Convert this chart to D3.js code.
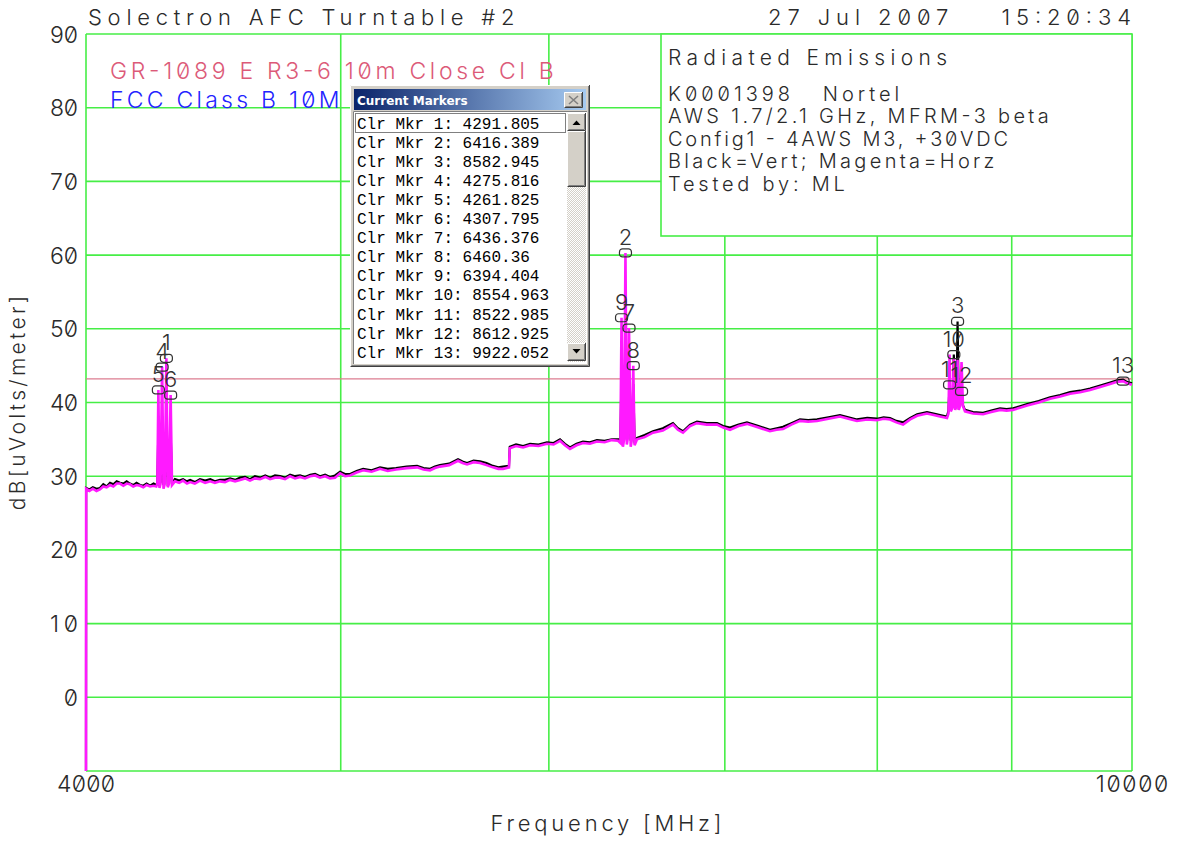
<!DOCTYPE html>
<html>
<head>
<meta charset="utf-8">
<script src="https://cdn.jsdelivr.net/npm/d3@7"></script>
<style>
  html, body { margin: 0; padding: 0; background: #fff; }
  svg { display: block; }
  .vec { font-family: "Inter", "DejaVu Sans", sans-serif; font-weight: 300; font-feature-settings: "zero" 1; white-space: pre; }
</style>
</head>
<body>
<svg id="chart" width="1177" height="842"></svg>
<script>
// ---- Scan data: frequency (MHz) and field strength (dBuV/m) ----
const freqMHz = [
  4000, 4000.5, 4012, 4024, 4037, 4049, 4061, 4073, 4085, 4097, 4109, 4121, 4133, 4145, 4157, 4169, 4181, 4194, 4206, 4218,
  4231, 4244, 4254, 4258, 4261.825, 4266, 4270, 4275.816, 4281, 4286, 4291.805, 4297, 4302, 4307.795, 4313, 4324, 4340, 4355, 4370, 4382,
  4400, 4420, 4440, 4460, 4478, 4498, 4518, 4538, 4558, 4578, 4598, 4618, 4638, 4659, 4680, 4700, 4720, 4741, 4762, 4783,
  4804, 4825, 4846, 4868, 4889, 4910, 4932, 4953, 4975, 4997, 5019, 5041, 5070, 5099, 5137, 5175, 5210, 5248, 5297, 5346,
  5376, 5407, 5430, 5454, 5498, 5541, 5563, 5585, 5617, 5649, 5681, 5713, 5740, 5764, 5794, 5798, 5830, 5866, 5902, 5946,
  5990, 6025, 6059, 6085, 6112, 6147, 6182, 6220, 6258, 6300, 6340, 6375, 6388, 6394.404, 6402, 6409, 6416.389, 6424, 6430, 6436.376,
  6446, 6453, 6460.36, 6468, 6482, 6525, 6573, 6630, 6689, 6718, 6748, 6790, 6831, 6890, 6952, 6990, 7032, 7085, 7137, 7210,
  7282, 7325, 7366, 7420, 7476, 7530, 7589, 7665, 7743, 7800, 7859, 7930, 7998, 8045, 8090, 8135, 8183, 8234, 8284, 8356,
  8405, 8452, 8504, 8515, 8522.985, 8532, 8545, 8554.963, 8565, 8575, 8582.945, 8592, 8603, 8612.925, 8624, 8639, 8700, 8777, 8840, 8908,
  8960, 9010, 9065, 9122, 9215, 9307, 9390, 9472, 9555, 9639, 9725, 9810, 9870, 9922.052, 9957, 10000
];
// Horizontal polarisation (magenta)
const horzDb = [
  -10, 28.3, 28.0, 28.3, 28.0, 28.2, 28.6, 28.5, 28.8, 28.6, 29.0, 29.0, 28.7, 29.0, 28.9, 28.6, 28.8, 28.7, 28.5, 28.8,
  28.6, 28.7, 28.6, 29.0, 41.7, 28.4, 29.0, 44.8, 28.3, 29.0, 46.0, 28.5, 29.0, 41.0, 28.8, 29.3, 29.1, 29.4, 29.0, 29.2,
  29.0, 29.4, 29.1, 29.3, 29.1, 29.3, 29.2, 29.5, 29.3, 29.5, 29.7, 29.4, 29.7, 29.6, 29.9, 29.6, 29.8, 29.8, 29.6, 30.0,
  29.7, 29.9, 29.7, 30.0, 30.1, 29.8, 30.0, 29.7, 29.8, 30.4, 30.0, 30.1, 30.5, 30.8, 30.6, 31.0, 30.7, 30.9, 31.1, 31.2,
  30.9, 30.8, 31.1, 31.3, 31.5, 32.1, 31.8, 31.6, 31.9, 31.8, 31.5, 31.2, 31.0, 31.0, 31.2, 33.8, 34.1, 33.9, 34.2, 34.1,
  34.4, 34.3, 34.8, 34.2, 33.7, 34.2, 34.5, 34.4, 34.7, 34.6, 34.9, 34.8, 34.5, 51.5, 34.0, 35.0, 60.3, 34.3, 35.2, 50.1,
  34.0, 35.0, 45.0, 34.2, 35.0, 35.3, 35.9, 36.2, 37.0, 36.3, 35.9, 36.8, 37.2, 37.0, 37.0, 36.6, 36.3, 36.8, 37.1, 36.6,
  36.1, 36.3, 36.4, 37.0, 37.5, 37.4, 37.5, 37.8, 38.1, 37.8, 37.5, 37.7, 37.6, 37.8, 37.7, 37.3, 37.0, 37.7, 38.2, 38.5,
  38.3, 38.1, 37.9, 38.5, 46.5, 38.8, 39.3, 46.0, 39.0, 39.5, 45.8, 39.0, 39.6, 45.5, 39.5, 38.8, 38.5, 38.4, 38.7, 39.0,
  38.9, 39.0, 39.3, 39.6, 40.0, 40.5, 40.8, 41.2, 41.4, 41.7, 42.1, 42.5, 42.8, 42.9, 42.6, 42.4
];
// Vertical polarisation (black)
const vertDb = [
  -10, 28.4, 28.2, 28.5, 28.3, 28.4, 28.9, 28.6, 29.1, 28.9, 29.3, 29.1, 29.0, 29.3, 29.0, 28.8, 29.1, 28.8, 28.7, 29.0,
  28.7, 29.0, 28.8, 29.0, 36.5, 29.0, 29.2, 38.0, 28.8, 29.2, 37.5, 29.0, 29.2, 36.0, 29.1, 29.6, 29.4, 29.6, 29.3, 29.5,
  29.2, 29.6, 29.4, 29.6, 29.3, 29.5, 29.5, 29.7, 29.5, 29.8, 29.9, 29.6, 30.0, 29.8, 30.1, 29.8, 30.1, 30.0, 29.8, 30.2,
  30.0, 30.1, 29.9, 30.2, 30.3, 30.0, 30.2, 29.9, 30.1, 30.6, 30.3, 30.3, 30.7, 31.0, 30.8, 31.2, 31.0, 31.1, 31.3, 31.4,
  31.1, 31.0, 31.3, 31.5, 31.7, 32.3, 32.0, 31.8, 32.1, 32.0, 31.8, 31.4, 31.2, 31.3, 31.4, 34.0, 34.3, 34.1, 34.4, 34.3,
  34.6, 34.5, 35.0, 34.4, 33.9, 34.4, 34.7, 34.6, 34.9, 34.8, 35.0, 35.0, 35.0, 44.0, 34.8, 35.2, 45.5, 35.0, 35.3, 43.5,
  34.8, 35.2, 42.5, 34.8, 35.2, 35.6, 36.1, 36.5, 37.2, 36.5, 36.1, 37.0, 37.4, 37.2, 37.2, 36.8, 36.6, 37.0, 37.3, 36.8,
  36.3, 36.5, 36.7, 37.2, 37.7, 37.6, 37.7, 38.0, 38.3, 38.0, 37.7, 37.9, 37.8, 38.0, 37.9, 37.5, 37.3, 37.9, 38.4, 38.7,
  38.5, 38.3, 38.1, 38.9, 42.4, 39.2, 39.5, 46.5, 39.5, 40.0, 51.0, 39.5, 39.8, 41.5, 39.6, 39.0, 38.7, 38.6, 38.9, 39.2,
  39.1, 39.2, 39.5, 39.8, 40.2, 40.7, 41.0, 41.4, 41.6, 41.9, 42.3, 42.7, 43.0, 43.1, 42.8, 42.6
];

// Limit line (GR-1089 E R3-6, 10 m, Class B)
const limitDb = 43.2;

// Clear-write markers
const markerNum  = [1, 2, 3, 4, 5, 6, 7, 8, 9, 10, 11, 12, 13];
const markerFreq = [4291.805, 6416.389, 8582.945, 4275.816, 4261.825, 4307.795, 6436.376, 6460.36, 6394.404, 8554.963, 8522.985, 8612.925, 9922.052];
const markerDb   = [46.0, 60.3, 51.0, 44.8, 41.7, 41.0, 50.1, 45.0, 51.5, 46.5, 42.4, 41.5, 42.9];

// Axis ticks
const yTicks = [-10, 0, 10, 20, 30, 40, 50, 60, 70, 80, 90];
const yTickLabels = ["", "0", "10", "20", "30", "40", "50", "60", "70", "80", "90"];
const xGrid = [4000, 5000, 6000, 7000, 8000, 9000, 10000];
const xTickLabels = [[4000, "4000"], [10000, "10000"]];

// Text blocks
const headerLeft = "Solectron AFC Turntable #2";
const headerDate = "27 Jul 2007";
const headerTime = "15:20:34";
const limitNames = ["GR-1089 E R3-6 10m Close Cl B", "FCC Class B 10M"];
const infoTitle = "Radiated Emissions";
const infoLines = ["K0001398   Nortel", "AWS 1.7/2.1 GHz, MFRM-3 beta", "Config1 - 4AWS M3, +30VDC", "Black=Vert; Magenta=Horz", "Tested by: ML"];

// ---- Drawing ----
const svg = d3.select("#chart");
const L = 86, R = 1132, T = 34, B = 771;
const x = d3.scaleLog().domain([4000, 10000]).range([L, R]);
const y = d3.scaleLinear().domain([-10, 90]).range([B, T]);
const GREEN = "#46ee46";
const INK = "#2a2a2a";

function fit(sel, pitch) {
  sel.each(function() {
    const t = d3.select(this).text();
    d3.select(this).attr("textLength", t.length * pitch).attr("lengthAdjust", "spacing");
  });
  return sel;
}

// grid
svg.append("g").selectAll("line").data(yTicks).join("line")
  .attr("x1", L).attr("x2", R).attr("y1", d => y(d)).attr("y2", d => y(d))
  .attr("stroke", GREEN).attr("stroke-width", 1.6);
svg.append("g").selectAll("line").data(xGrid).join("line")
  .attr("x1", d => x(d)).attr("x2", d => x(d)).attr("y1", T).attr("y2", B)
  .attr("stroke", GREEN).attr("stroke-width", 1.6);

// y tick labels
fit(svg.append("g").selectAll("text").data(yTicks).join("text")
  .attr("class", "vec").attr("x", 78).attr("y", d => y(d) + 8.5)
  .attr("text-anchor", "end").attr("font-size", 23).attr("fill", INK)
  .text((d, i) => yTickLabels[i]), 14);

// x tick labels
fit(svg.append("g").selectAll("text").data(xTickLabels).join("text")
  .attr("class", "vec").attr("x", d => x(d[0])).attr("y", 792)
  .attr("text-anchor", "middle").attr("font-size", 23).attr("fill", INK)
  .text(d => d[1]), 14.5);

// axis titles
fit(svg.append("text").attr("class", "vec").attr("x", 606).attr("y", 831)
  .attr("text-anchor", "middle").attr("font-size", 22).attr("fill", INK)
  .text("Frequency [MHz]"), 15.4);
fit(svg.append("text").attr("class", "vec")
  .attr("transform", "translate(25,403) rotate(-90)")
  .attr("text-anchor", "middle").attr("font-size", 21).attr("fill", INK)
  .text("dB[uVolts/meter]"), 13.4);

// header
fit(svg.append("text").attr("class", "vec").attr("x", 88).attr("y", 25)
  .attr("font-size", 22).attr("fill", INK).text(headerLeft), 16.4);
fit(svg.append("text").attr("class", "vec").attr("x", 768).attr("y", 25)
  .attr("font-size", 22).attr("fill", INK).text(headerDate), 16.4);
fit(svg.append("text").attr("class", "vec").attr("x", 1131).attr("y", 25)
  .attr("text-anchor", "end").attr("font-size", 22).attr("fill", INK).text(headerTime), 16.2);

// limit legend
fit(svg.append("text").attr("class", "vec").attr("x", 110).attr("y", 79)
  .attr("font-size", 23).attr("fill", "#dc5a78").text(limitNames[0]), 15.3);
fit(svg.append("text").attr("class", "vec").attr("x", 110).attr("y", 108)
  .attr("font-size", 23).attr("fill", "#2222ff").text(limitNames[1]), 15.3);

// limit line
svg.append("line").attr("x1", L).attr("x2", R)
  .attr("y1", y(limitDb)).attr("y2", y(limitDb))
  .attr("stroke", "#dc7d90").attr("stroke-width", 1.4);

// traces
const pts = (vals) => freqMHz.map((f, i) => [f, vals[i]]);
const line = d3.line().x(d => x(d[0])).y(d => y(d[1]));
svg.append("path").datum(pts(vertDb)).attr("d", line)
  .attr("fill", "none").attr("stroke", "#000").attr("stroke-width", 2.2)
  .attr("stroke-linejoin", "miter");
svg.append("path").datum(pts(horzDb)).attr("d", line)
  .attr("fill", "none").attr("stroke", "#ff1aff").attr("stroke-width", 2.6)
  .attr("stroke-linejoin", "miter");

// markers
const mk = svg.append("g").selectAll("g").data(markerNum).join("g")
  .attr("transform", (d, i) => `translate(${x(markerFreq[i])},${y(markerDb[i])})`);
mk.append("rect").attr("x", -6).attr("y", -4).attr("width", 12).attr("height", 8).attr("rx", 3)
  .attr("fill", "none").attr("stroke", "#333").attr("stroke-width", 1.2);
mk.append("text").attr("class", "vec").attr("y", -8).attr("text-anchor", "middle")
  .attr("font-size", 22).attr("fill", "#333").text(d => d);

// info box
svg.append("rect").attr("x", 661).attr("y", T).attr("width", R - 661).attr("height", 236 - T)
  .attr("fill", "#fff").attr("stroke", GREEN).attr("stroke-width", 1.6);
fit(svg.append("text").attr("class", "vec").attr("x", 668).attr("y", 65)
  .attr("font-size", 21).attr("fill", INK).text(infoTitle), 15.5);
fit(svg.append("g").selectAll("text").data(infoLines).join("text")
  .attr("class", "vec").attr("x", 668).attr("y", (d, i) => 101 + i * 22.4)
  .attr("xml:space", "preserve")
  .attr("font-size", 20).attr("fill", INK).text(d => d), 13.6);

// "Current Markers" window
const win = svg.append("g");
const defs = svg.append("defs");
const grad = defs.append("linearGradient").attr("id", "titlebar");
grad.append("stop").attr("offset", "0%").attr("stop-color", "#0a246a");
grad.append("stop").attr("offset", "100%").attr("stop-color", "#a6caf0");
const pat = defs.append("pattern").attr("id", "track").attr("width", 2).attr("height", 2)
  .attr("patternUnits", "userSpaceOnUse");
pat.append("rect").attr("width", 2).attr("height", 2).attr("fill", "#d4d0c8");
pat.append("rect").attr("width", 1).attr("height", 1).attr("fill", "#fff");
pat.append("rect").attr("x", 1).attr("y", 1).attr("width", 1).attr("height", 1).attr("fill", "#fff");

function bevel(g, x0, y0, w, h, raised) {
  const lt = raised ? "#ffffff" : "#808080", rb = raised ? "#404040" : "#ffffff";
  g.append("rect").attr("x", x0).attr("y", y0).attr("width", w).attr("height", h).attr("fill", "#d4d0c8");
  g.append("path").attr("d", `M${x0 + 0.5},${y0 + h}V${y0 + 0.5}H${x0 + w}`).attr("stroke", lt).attr("fill", "none");
  g.append("path").attr("d", `M${x0 + 0.5},${y0 + h - 0.5}H${x0 + w - 0.5}V${y0}`).attr("stroke", rb).attr("fill", "none");
  if (raised) g.append("path").attr("d", `M${x0 + 1.5},${y0 + h - 1.5}H${x0 + w - 1.5}V${y0 + 1}`).attr("stroke", "#808080").attr("fill", "none");
}
bevel(win, 350, 85, 240, 282, true);
win.append("rect").attr("x", 354).attr("y", 89).attr("width", 232).attr("height", 21).attr("fill", "url(#titlebar)");
win.append("text").attr("x", 357).attr("y", 105).attr("font-family", "DejaVu Sans, sans-serif")
  .attr("font-weight", "bold").attr("font-size", 12).attr("fill", "#fff").text("Current Markers");
bevel(win, 564, 92, 19, 16, true);
win.append("path").attr("d", "M569,96L578,104M578,96L569,104").attr("stroke", "#808080").attr("stroke-width", 1.6);
// list box
win.append("rect").attr("x", 353).attr("y", 111).attr("width", 234).attr("height", 253).attr("fill", "#fff");
win.append("path").attr("d", "M353.5,364V111.5H587").attr("stroke", "#808080").attr("fill", "none");
win.append("rect").attr("x", 567).attr("y", 113).attr("width", 19).attr("height", 249).attr("fill", "url(#track)");
bevel(win, 567, 113, 19, 18, true);
win.append("path").attr("d", "M572.5,125L576.5,120.5L580.5,125Z").attr("fill", "#000");
bevel(win, 567, 131, 19, 56, true);
bevel(win, 567, 343, 19, 18, true);
win.append("path").attr("d", "M572.5,349L576.5,353.5L580.5,349Z").attr("fill", "#000");
win.selectAll("text.item").data(markerNum).join("text").attr("class", "item")
  .attr("x", 357).attr("y", (d, i) => 128.5 + i * 19.1)
  .attr("font-family", "Liberation Mono, Courier New, monospace").attr("font-size", 16).attr("fill", "#000")
  .text((d, i) => `Clr Mkr ${d}: ${markerFreq[i]}`);
win.append("rect").attr("x", 355.5).attr("y", 113.5).attr("width", 210).attr("height", 19)
  .attr("fill", "none").attr("stroke", "#000").attr("stroke-dasharray", "1,1");
</script>
</body>
</html>
